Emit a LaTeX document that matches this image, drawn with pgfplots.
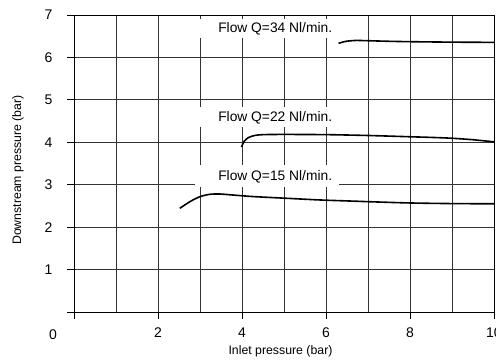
\documentclass[border=0pt]{standalone}
\usepackage{pgfplots}
\pgfplotsset{compat=1.18}
\usepackage{fontspec}
\setmainfont{Liberation Sans}
\begin{document}
\begin{tikzpicture}
\begin{axis}[
  scale only axis, width=420pt, height=297pt,
  xmin=0, xmax=10, ymin=0, ymax=7,
  xtick={0,2,4,6,8,10}, xticklabels={,2,4,6,8,10},
  ytick={0,1,2,3,4,5,6,7}, yticklabels={,1,2,3,4,5,6,7},
  minor xtick={1,3,5,7,9},
  tick pos=left, tick align=outside,
  major tick length=7pt, minor tick length=0pt,
  tick style={black, line width=0.8pt},
  grid=both,
  major grid style={black!80, line width=0.7pt},
  minor grid style={black!80, line width=0.7pt},
  axis line style={black, line width=0.8pt},
  /pgf/number format/assume math mode=true,
  ticklabel style={font=\fontsize{14}{16}\selectfont},
  xticklabel style={yshift=-5pt},
  yticklabel style={xshift=-11pt},
  xlabel={Inlet pressure (bar)},
  ylabel={Downstream pressure (bar)},
  label style={font=\fontsize{12.3}{14}\selectfont},
  xlabel style={at={(axis description cs:0.4917,-0.1313)}, anchor=center},
  ylabel style={at={(axis description cs:-0.1333,0.478)}, anchor=center},
  clip=false,
]
\coordinate (bl) at (rel axis cs:0,0);
\coordinate (tr) at (rel axis cs:1,1);
\fill[white] (axis cs:2.83,6.46) rectangle (axis cs:6.40,6.91);
\fill[white] (axis cs:2.83,4.36) rectangle (axis cs:6.36,4.83);
\fill[white] (axis cs:2.87,2.945) rectangle (axis cs:6.32,3.465);
\node[anchor=west, inner sep=0pt, font=\fontsize{13.8}{15}\selectfont] at (axis cs:3.43,6.67) {Flow Q=34 Nl/min.};
\node[anchor=west, inner sep=0pt, font=\fontsize{13.8}{15}\selectfont] at (axis cs:3.43,4.565) {Flow Q=22 Nl/min.};
\node[anchor=west, inner sep=0pt, font=\fontsize{13.8}{15}\selectfont] at (axis cs:3.43,3.19) {Flow Q=15 Nl/min.};
\node[font=\fontsize{14}{16}\selectfont] at (axis description cs:-0.05,-0.0774) {0};
\addplot[black, line width=1.6pt, smooth, tension=0.4] coordinates {
 (6.30,6.333) (6.48,6.38) (6.71,6.40) (6.95,6.395) (7.5,6.38) (8.06,6.37) (9,6.36) (10,6.355)
};
\addplot[black, line width=1.6pt, smooth, tension=0.4] coordinates {
 (3.99,3.89) (4.05,4.02) (4.15,4.11) (4.3,4.16) (4.5,4.18) (5,4.185) (6,4.18) (7,4.16) (8,4.13) (8.5,4.115) (9,4.095) (9.5,4.06) (10,4.01)
};
\addplot[black, line width=1.6pt, smooth, tension=0.5] coordinates {
 (2.52,2.444) (2.76,2.60) (3.0,2.718) (3.24,2.774) (3.48,2.78) (3.87,2.75) (4.27,2.72) (5.06,2.68) (5.86,2.64) (6.73,2.61) (7.0,2.60) (7.98,2.57) (9,2.555) (10,2.55)
};
\end{axis}
\pgfresetboundingbox
\path[use as bounding box] ([shift={(-74pt,-48pt)}]bl) rectangle ([shift={(2pt,15pt)}]tr);
\end{tikzpicture}
\end{document}
